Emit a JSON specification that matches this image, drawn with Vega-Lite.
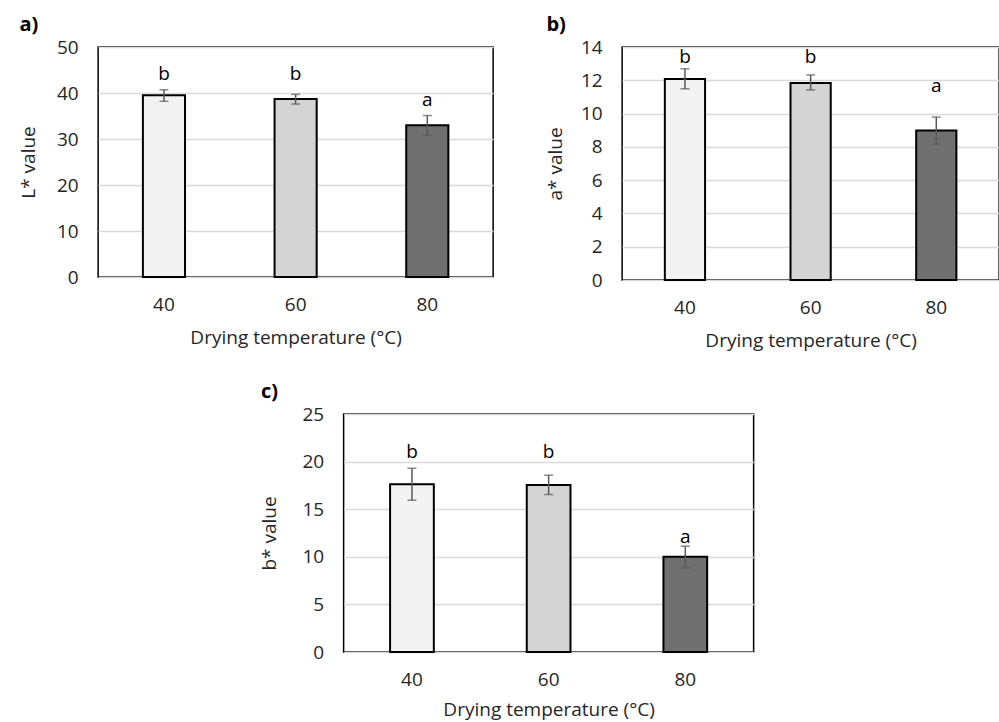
{
  "$schema": "https://vega.github.io/schema/vega-lite/v6.json",
  "padding": {"left": 18, "top": 14, "right": 0, "bottom": 0},
  "background": "white",
  "datasets": {
    "L": [
      {"temp": 40, "value": 39.5, "lower": 38.2, "upper": 40.7, "letter": "b", "letterY": 42.9},
      {"temp": 60, "value": 38.7, "lower": 37.6, "upper": 39.7, "letter": "b", "letterY": 42.9},
      {"temp": 80, "value": 33.0, "lower": 30.8, "upper": 35.1, "letter": "a", "letterY": 37.2}
    ],
    "A": [
      {"temp": 40, "value": 12.08, "lower": 11.49, "upper": 12.69, "letter": "b", "letterY": 13.04},
      {"temp": 60, "value": 11.83, "lower": 11.42, "upper": 12.32, "letter": "b", "letterY": 13.04},
      {"temp": 80, "value": 8.99, "lower": 8.17, "upper": 9.79, "letter": "a", "letterY": 11.3}
    ],
    "B": [
      {"temp": 40, "value": 17.62, "lower": 15.94, "upper": 19.3, "letter": "b", "letterY": 20.35},
      {"temp": 60, "value": 17.55, "lower": 16.54, "upper": 18.57, "letter": "b", "letterY": 20.35},
      {"temp": 80, "value": 10.0, "lower": 8.81, "upper": 11.12, "letter": "a", "letterY": 11.43}
    ]
  },
  "config": {
    "font": "Open Sans",
    "view": {"stroke": "#000000", "strokeWidth": 1.5},
    "axis": {
      "labelFont": "Open Sans", "titleFont": "Open Sans",
      "labelFontSize": 19, "titleFontSize": 19,
      "labelColor": "#262626", "titleColor": "#262626",
      "titleFontWeight": "normal",
      "ticks": false, "domain": false
    },
    "axisX": {"labelPadding": 18, "titlePadding": 14, "labelAngle": 0, "grid": false},
    "axisY": {"labelPadding": 20, "grid": true, "gridColor": "#d9d9d9", "gridWidth": 1.5},
    "title": {"font": "Open Sans", "fontSize": 20, "fontWeight": "bold", "color": "#000000", "anchor": "start", "frame": "bounds"}
  },
  "vconcat": [
    {
      "hconcat": [
        {
          "title": {"text": "a)", "offset": 3},
          "width": 395, "height": 230,
          "data": {"name": "L"},
          "encoding": {
            "x": {"field": "temp", "type": "ordinal", "scale": {"paddingInner": 0, "paddingOuter": 0}, "axis": {"title": "Drying temperature (°C)"}}
          },
          "layer": [
            {
              "mark": {"type": "bar", "width": {"band": 0.32}, "stroke": "#000000", "strokeWidth": 2},
              "encoding": {
                "y": {"field": "value", "type": "quantitative", "title": "L* value", "scale": {"domain": [0, 50]}, "axis": {"values": [0, 10, 20, 30, 40, 50], "titlePadding": 18}},
                "fill": {"field": "temp", "type": "nominal", "scale": {"domain": [40, 60, 80], "range": ["#f3f3f3", "#d4d4d4", "#707070"]}, "legend": null}
              }
            },
            {
              "mark": {"type": "errorbar", "ticks": {"size": 9}, "color": "#595959", "thickness": 1.5},
              "encoding": {
                "y": {"field": "lower", "type": "quantitative", "title": "L* value", "scale": {"domain": [0, 50]}, "axis": {"values": [0, 10, 20, 30, 40, 50], "titlePadding": 18}},
                "y2": {"field": "upper"}
              }
            },
            {
              "mark": {"type": "text", "baseline": "alphabetic", "fontSize": 19, "color": "#000000"},
              "encoding": {
                "y": {"field": "letterY", "type": "quantitative", "title": "L* value", "scale": {"domain": [0, 50]}, "axis": {"values": [0, 10, 20, 30, 40, 50], "titlePadding": 18}},
                "text": {"field": "letter"}
              }
            }
          ]
        },
        {
          "title": {"text": "b)", "offset": 3},
          "width": 377, "height": 233,
          "data": {"name": "A"},
          "encoding": {
            "x": {"field": "temp", "type": "ordinal", "scale": {"paddingInner": 0, "paddingOuter": 0}, "axis": {"title": "Drying temperature (°C)"}}
          },
          "layer": [
            {
              "mark": {"type": "bar", "width": {"band": 0.32}, "stroke": "#000000", "strokeWidth": 2},
              "encoding": {
                "y": {"field": "value", "type": "quantitative", "title": "a* value", "scale": {"domain": [0, 14]}, "axis": {"values": [0, 2, 4, 6, 8, 10, 12, 14], "titlePadding": 15}},
                "fill": {"field": "temp", "type": "nominal", "scale": {"domain": [40, 60, 80], "range": ["#f3f3f3", "#d4d4d4", "#707070"]}, "legend": null}
              }
            },
            {
              "mark": {"type": "errorbar", "ticks": {"size": 9}, "color": "#595959", "thickness": 1.5},
              "encoding": {
                "y": {"field": "lower", "type": "quantitative", "title": "a* value", "scale": {"domain": [0, 14]}, "axis": {"values": [0, 2, 4, 6, 8, 10, 12, 14], "titlePadding": 15}},
                "y2": {"field": "upper"}
              }
            },
            {
              "mark": {"type": "text", "baseline": "alphabetic", "fontSize": 19, "color": "#000000"},
              "encoding": {
                "y": {"field": "letterY", "type": "quantitative", "title": "a* value", "scale": {"domain": [0, 14]}, "axis": {"values": [0, 2, 4, 6, 8, 10, 12, 14], "titlePadding": 15}},
                "text": {"field": "letter"}
              }
            }
          ]
        }
      ],
      "spacing": 51
    },
    {
      "title": {"text": "c)", "offset": 3},
      "width": 410, "height": 238,
      "data": {"name": "B"},
      "encoding": {
        "x": {"field": "temp", "type": "ordinal", "scale": {"paddingInner": 0, "paddingOuter": 0}, "axis": {"title": "Drying temperature (°C)", "titlePadding": 11}}
      },
      "layer": [
        {
          "mark": {"type": "bar", "width": {"band": 0.32}, "stroke": "#000000", "strokeWidth": 2},
          "encoding": {
            "y": {"field": "value", "type": "quantitative", "title": "b* value", "scale": {"domain": [0, 25]}, "axis": {"values": [0, 5, 10, 15, 20, 25], "titlePadding": 22}},
            "fill": {"field": "temp", "type": "nominal", "scale": {"domain": [40, 60, 80], "range": ["#f3f3f3", "#d4d4d4", "#707070"]}, "legend": null}
          }
        },
        {
          "mark": {"type": "errorbar", "ticks": {"size": 9}, "color": "#595959", "thickness": 1.5},
          "encoding": {
            "y": {"field": "lower", "type": "quantitative", "title": "b* value", "scale": {"domain": [0, 25]}, "axis": {"values": [0, 5, 10, 15, 20, 25], "titlePadding": 22}},
            "y2": {"field": "upper"}
          }
        },
        {
          "mark": {"type": "text", "baseline": "alphabetic", "fontSize": 19, "color": "#000000"},
          "encoding": {
            "y": {"field": "letterY", "type": "quantitative", "title": "b* value", "scale": {"domain": [0, 25]}, "axis": {"values": [0, 5, 10, 15, 20, 25], "titlePadding": 22}},
            "text": {"field": "letter"}
          }
        }
      ]
    }
  ],
  "spacing": 30,
  "center": true
}
